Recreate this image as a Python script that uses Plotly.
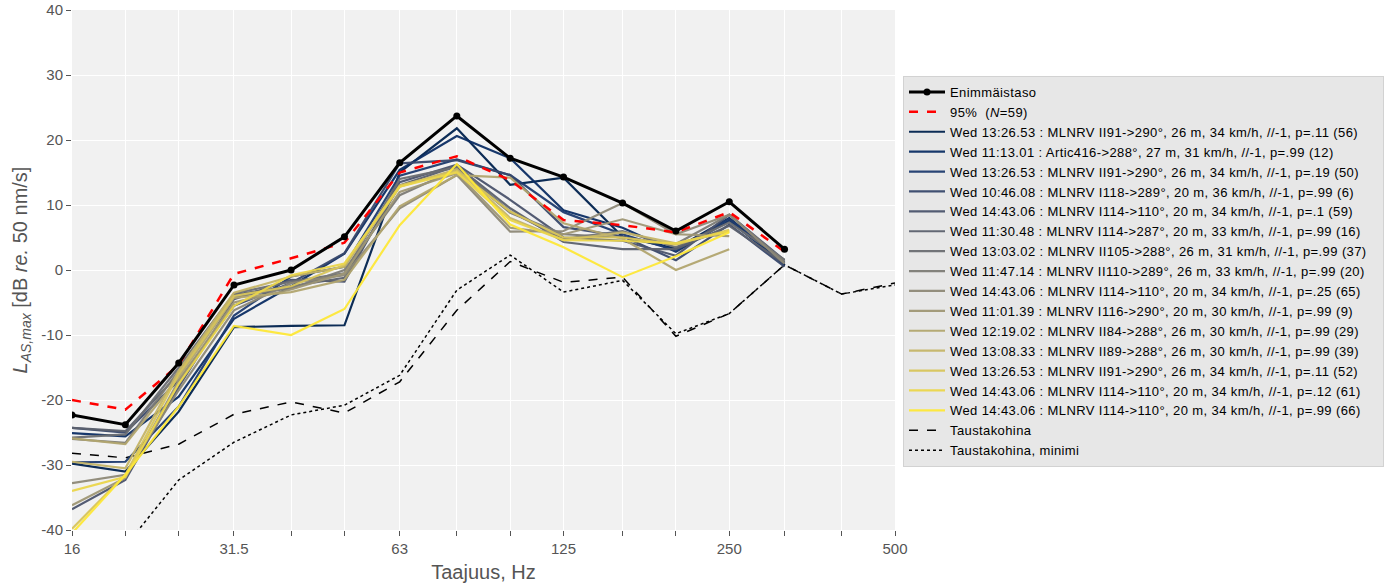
import plotly.graph_objects as go
from plotly.colors import sample_colorscale

# Third-octave band centre frequencies, Hz
freqs = [16, 20, 25, 31.5, 40, 50, 63, 80, 100, 125, 160, 200, 250, 315, 400, 500]
tick_labels = ["16", "", "", "31.5", "", "", "63", "", "", "125", "", "", "250", "", "", "500"]
y_ticks = [-40, -30, -20, -10, 0, 10, 20, 30, 40]
y_tick_labels = ["-40", "-30", "-20", "-10", "0", "10", "20", "30", "40"]

# Maximum level over all events and 95th percentile
envelope = [-22.3, -23.8, -14.3, -2.3, 0.0, 5.1, 16.5, 23.7, 17.2, 14.3, 10.3, 6.0, 10.5, 3.2, None, None]
pct95 = [-20.0, -21.5, -14.6, -0.6, 1.8, 4.2, 15.0, 17.5, 13.8, 7.7, 6.9, 5.8, 8.9, 2.8, None, None]

# Background noise and its minimum
background = [-28.2, -28.9, -26.8, -22.2, -20.3, -22.0, -17.2, -6.2, 1.3, -1.9, -1.1, -10.2, -6.7, 0.8, -3.7, -2.0]
background_min = [-50.0, -42.5, -32.3, -26.5, -22.3, -20.8, -16.2, -3.1, 2.3, -3.4, -1.6, -9.8, -6.7, 0.8, -3.7, -2.3]

# Individual train passages
event_labels = [
    "Wed 13:26.53 : MLNRV II91->290°, 26 m, 34 km/h, //-1, p=.11 (56)",
    "Wed 11:13.01 : Artic416->288°, 27 m, 31 km/h, //-1, p=.99 (12)",
    "Wed 13:26.53 : MLNRV II91->290°, 26 m, 34 km/h, //-1, p=.19 (50)",
    "Wed 10:46.08 : MLNRV I118->289°, 20 m, 36 km/h, //-1, p=.99 (6)",
    "Wed 14:43.06 : MLNRV I114->110°, 20 m, 34 km/h, //-1, p=.1 (59)",
    "Wed 11:30.48 : MLNRV I114->287°, 20 m, 33 km/h, //-1, p=.99 (16)",
    "Wed 13:03.02 : MLNRV II105->288°, 26 m, 31 km/h, //-1, p=.99 (37)",
    "Wed 11:47.14 : MLNRV II110->289°, 26 m, 33 km/h, //-1, p=.99 (20)",
    "Wed 14:43.06 : MLNRV I114->110°, 20 m, 34 km/h, //-1, p=.25 (65)",
    "Wed 11:01.39 : MLNRV I116->290°, 20 m, 30 km/h, //-1, p=.99 (9)",
    "Wed 12:19.02 : MLNRV II84->288°, 26 m, 30 km/h, //-1, p=.99 (29)",
    "Wed 13:08.33 : MLNRV II89->288°, 26 m, 30 km/h, //-1, p=.99 (39)",
    "Wed 13:26.53 : MLNRV II91->290°, 26 m, 34 km/h, //-1, p=.11 (52)",
    "Wed 14:43.06 : MLNRV I114->110°, 20 m, 34 km/h, //-1, p=.12 (61)",
    "Wed 14:43.06 : MLNRV I114->110°, 20 m, 34 km/h, //-1, p=.99 (66)",
]
ev00 = [-29.8, -31.0, -21.8, -8.8, -8.6, -8.5, 15.0, 21.8, 13.1, 14.2, 5.1, 3.3, 8.0, 1.0]
ev01 = [-25.1, -25.6, -19.5, -7.5, -2.5, 2.5, 15.4, 20.6, 17.2, 9.2, 6.5, 2.8, 7.6, 0.8]
ev02 = [-29.6, -29.5, -21.0, -7.0, -1.0, 0.5, 14.5, 17.0, 14.6, 8.9, 5.5, 3.0, 7.9, 1.2]
ev03 = [-24.3, -25.0, -17.0, -5.5, -2.0, 2.6, 16.4, 16.9, 14.6, 6.6, 5.2, 1.5, 7.0, 0.5]
ev04 = [-36.8, -32.3, -18.0, -4.5, -1.5, -1.8, 13.5, 16.2, 10.8, 5.0, 4.5, 2.2, 8.5, 1.5]
ev05 = [-24.3, -24.8, -16.0, -3.8, -2.5, -1.2, 13.0, 16.0, 9.5, 4.3, 3.2, 3.2, 6.8, 1.0]
ev06 = [-25.8, -25.3, -15.0, -3.6, -1.8, -0.5, 14.0, 15.8, 9.0, 4.8, 6.0, 3.5, 7.3, 1.6]
ev07 = [-26.0, -26.6, -15.5, -4.1, -2.8, 0.0, 11.5, 15.5, 8.8, 5.5, 5.0, 4.0, 8.5, 1.3]
ev08 = [-32.8, -31.5, -18.5, -6.2, -2.0, -0.8, 9.5, 14.6, 5.9, 6.0, 10.3, 5.5, 8.5, 1.0]
ev09 = [-36.2, -32.0, -17.0, -5.0, -3.0, -0.5, 12.0, 14.9, 6.5, 5.5, 7.8, 5.5, 5.2]
ev10 = [-25.9, -26.8, -16.5, -4.3, -3.4, -1.5, 9.8, 14.6, 14.2, 7.2, 4.8, 0.0, 3.2]
ev11 = [-29.5, -30.5, -15.5, -3.5, -1.0, 0.5, 12.8, 15.5, 8.0, 4.6, 5.8, 4.1, 5.9]
ev12 = [-39.8, -31.5, -16.0, -4.0, -2.5, 0.8, 13.0, 15.2, 9.0, 5.0, 5.0, 3.9, 6.2]
ev13 = [-34.0, -31.8, -17.5, -5.5, -0.8, 1.0, 12.8, 15.0, 7.7, 4.6, 4.5, 4.1, 6.0]
ev14 = [-40.5, -31.5, -21.0, -8.6, -10.0, -6.0, 6.9, 16.3, 7.0, 3.5, -1.1, 2.1, 5.8]
events = [ev00, ev01, ev02, ev03, ev04, ev05, ev06, ev07, ev08, ev09, ev10, ev11, ev12, ev13, ev14]

colors = sample_colorscale("Cividis", [i / (len(events) - 1) for i in range(len(events))])

FONT = "Liberation Sans, Arial, sans-serif"
GREY = "#555555"
W, H = 1392, 588


def spaced(text):
    # legend labels are set slightly wider than the default glyph advance;
    # trailing spaces keep the legend box clear of the widened text
    return '<span style="letter-spacing:0.4px">' + text + "</span>&nbsp;&nbsp;&nbsp;"


fig = go.Figure()

# Background noise curves
fig.add_trace(go.Scatter(
    x=freqs, y=background, mode="lines", name=spaced("Taustakohina"),
    line=dict(color="black", width=1.5, dash="dash"), legendrank=1017))
fig.add_trace(go.Scatter(
    x=freqs, y=background_min, mode="lines", name=spaced("Taustakohina, minimi"),
    line=dict(color="black", width=1.5, dash="dot"), legendrank=1018))

# Individual events
for i, (lab, vals) in enumerate(zip(event_labels, events)):
    fig.add_trace(go.Scatter(
        x=freqs[:len(vals)], y=vals, mode="lines", name=spaced(lab),
        line=dict(color=colors[i], width=2.2), opacity=0.95, legendrank=1002 + i))

# Percentile and maximum on top
fig.add_trace(go.Scatter(
    x=freqs, y=pct95, mode="lines", name=spaced("95%  (<i>N</i>=59)"),
    line=dict(color="#ff0000", width=2.5, dash="dash"), legendrank=1001))
fig.add_trace(go.Scatter(
    x=freqs, y=envelope, mode="lines+markers", name=spaced("Enimmäistaso"),
    line=dict(color="black", width=3), marker=dict(color="black", size=7),
    legendrank=1000))

fig.update_layout(
    width=W, height=H,
    margin=dict(l=72, r=497, t=10, b=58),
    paper_bgcolor="white", plot_bgcolor="#f1f1f1",
    font=dict(family=FONT, color=GREY, size=15),
    showlegend=True,
    legend=dict(
        xref="container", yref="container",
        x=903 / W, xanchor="left", y=1 - 76 / H, yanchor="top",
        maxheight=500,
        bgcolor="#e7e7e7", bordercolor="#d2d2d2", borderwidth=1,
        font=dict(family=FONT, size=13, color="black"),
        tracegroupgap=0, itemwidth=36,
    ),
)
fig.update_xaxes(
    type="log", range=[1.20412, 2.69897], automargin=False,
    tickvals=freqs, ticktext=tick_labels,
    showgrid=True, gridcolor="white", gridwidth=1,
    ticks="outside", ticklen=5, tickcolor=GREY,
    tickfont=dict(size=15, color=GREY),
    title=dict(text="Taajuus, Hz", font=dict(size=20, color=GREY), standoff=8),
    zeroline=False, showline=False,
)
fig.update_yaxes(
    range=[-40, 40], automargin=False,
    tickvals=y_ticks, ticktext=y_tick_labels,
    showgrid=True, gridcolor="white", gridwidth=1,
    ticks="outside", ticklen=5, tickcolor=GREY,
    tickfont=dict(size=15, color=GREY),
    title=dict(text="<i>L</i><sub><i>AS,max</i></sub> [dB <i>re.</i> 50 nm/s]",
               font=dict(size=20, color=GREY), standoff=8),
    zeroline=False, showline=False,
)

fig.write_html("out.html")
